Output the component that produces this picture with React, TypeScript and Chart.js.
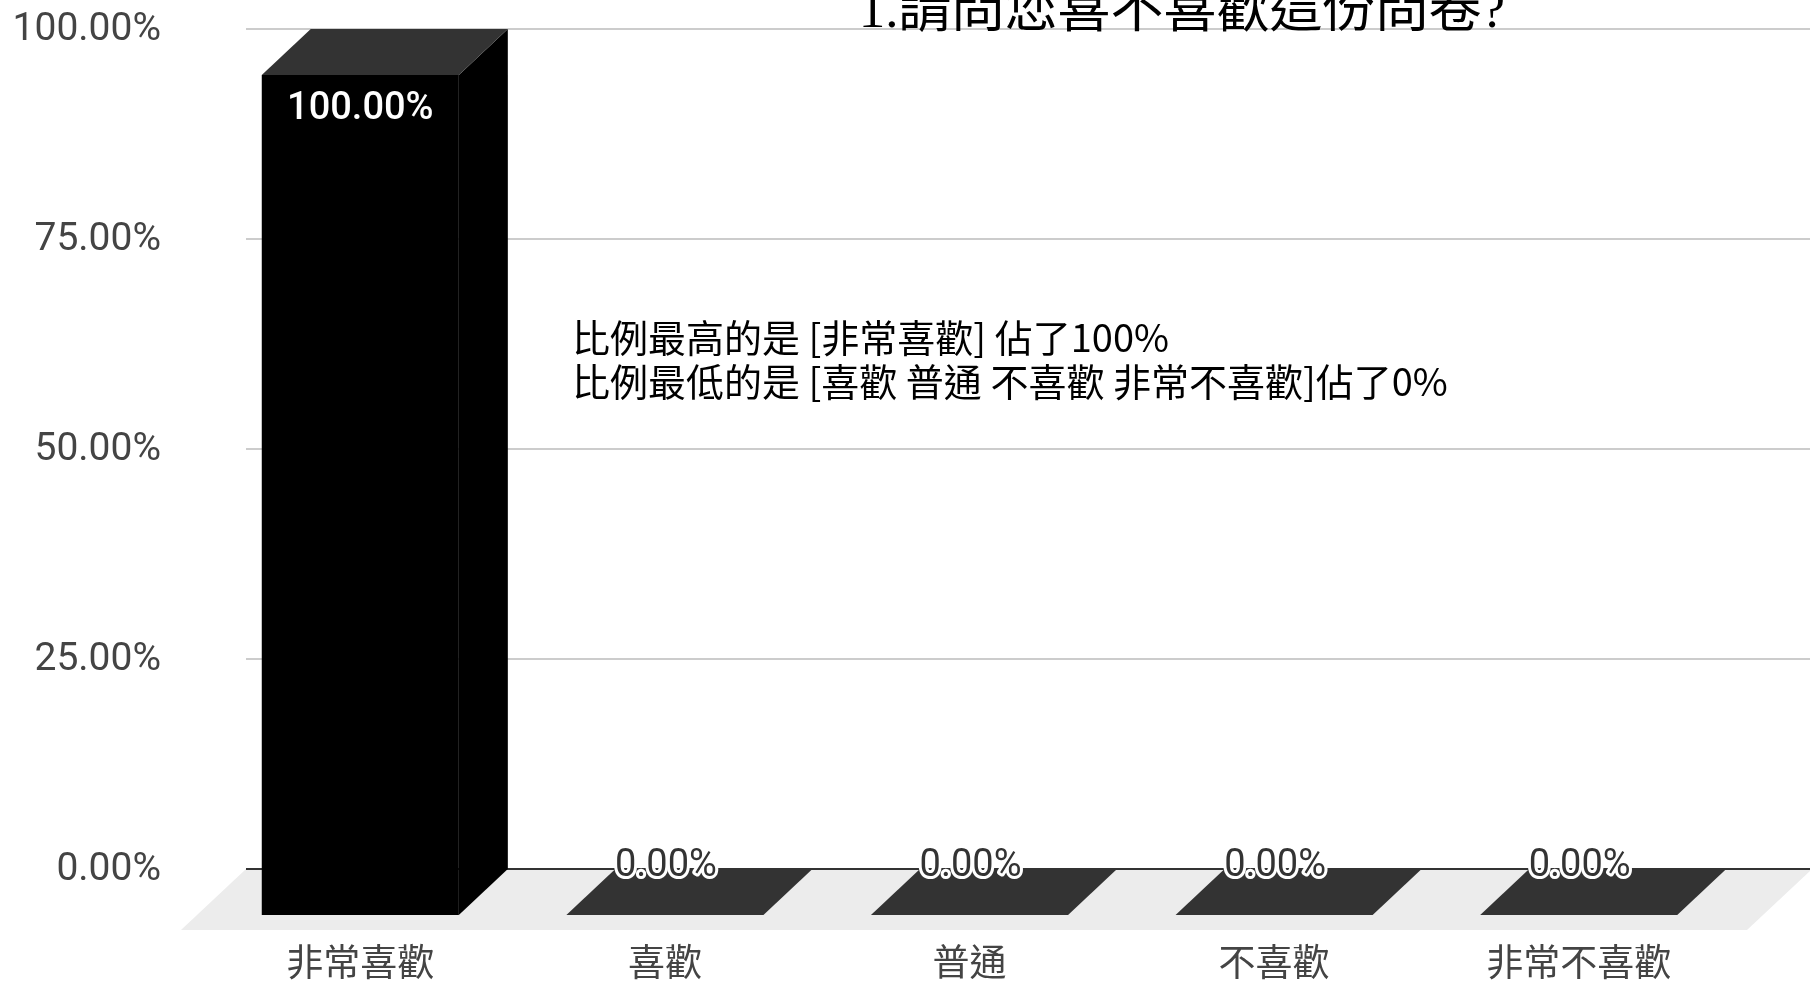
import React, { useEffect, useRef } from 'react';
import { Chart, registerables } from 'chart.js';

Chart.register(...registerables);

const TITLE = '1.請問您喜不喜歡這份問卷?';
const CATEGORIES = ['非常喜歡', '喜歡', '普通', '不喜歡', '非常不喜歡'];
const VALUES = [100, 0, 0, 0, 0];
const Y_TICKS = [0, 25, 50, 75, 100];
const NOTE_LINES = [
  '比例最高的是 [非常喜歡] 佔了100%',
  '比例最低的是 [喜歡 普通 不喜歡 非常不喜歡]佔了0%',
];

// 3D projection (style constants)
const DX = 49;
const DY = 46;
const FLOOR_DX = 65;
const FLOOR_DY = 61;

const fmt = (v: number) => v.toFixed(2) + '%';

const threeD = {
  id: 'threeD',
  beforeDatasetsDraw(chart: any) {
    const { ctx, chartArea, scales } = chart;
    const ys = scales.y;
    const xs = scales.x;
    const W = chart.width;
    const base = ys.getPixelForValue(0);
    const gridLeft = chartArea.left + 38;
    ctx.save();
    // floor
    ctx.fillStyle = '#ececec';
    ctx.beginPath();
    ctx.moveTo(gridLeft, base);
    ctx.lineTo(W + 2, base);
    ctx.lineTo(W + 2 - FLOOR_DX, base + FLOOR_DY);
    ctx.lineTo(gridLeft - FLOOR_DX, base + FLOOR_DY);
    ctx.closePath();
    ctx.fill();
    // gridlines
    Y_TICKS.forEach((t) => {
      const y = Math.round(ys.getPixelForValue(t));
      ctx.strokeStyle = t === 0 ? '#333333' : '#cccccc';
      ctx.lineWidth = 2;
      ctx.beginPath();
      ctx.moveTo(gridLeft, y);
      ctx.lineTo(W, y);
      ctx.stroke();
      // tick labels
      ctx.fillStyle = '#444444';
      ctx.font = '39px Roboto, "Noto Sans", sans-serif';
      ctx.textAlign = 'right';
      ctx.textBaseline = 'middle';
      ctx.fillText(fmt(t), 161, y + 1);
    });
    // category labels
    ctx.fillStyle = '#444444';
    ctx.font = '37px "Noto Sans CJK TC", sans-serif';
    ctx.textAlign = 'center';
    ctx.textBaseline = 'middle';
    CATEGORIES.forEach((c, i) => {
      ctx.fillText(c, xs.getPixelForValue(i), base + 93);
    });
    // title
    ctx.fillStyle = '#000000';
    ctx.font = '53px "Liberation Serif", "Noto Sans CJK TC", serif';
    ctx.textAlign = 'center';
    ctx.textBaseline = 'alphabetic';
    ctx.fillText(TITLE, 1182, 27);
    // notes
    ctx.font = '38px "Noto Sans CJK TC", sans-serif';
    ctx.textAlign = 'left';
    ctx.textBaseline = 'middle';
    NOTE_LINES.forEach((l, i) => {
      ctx.fillText(l, 572, 338 + i * 44);
    });
    ctx.restore();
  },
  afterDatasetsDraw(chart: any) {
    const { ctx } = chart;
    const meta = chart.getDatasetMeta(0);
    ctx.save();
    meta.data.forEach((el: any, i: number) => {
      const { x, y, base, width } = el.getProps(['x', 'y', 'base', 'width'], true);
      const L = x - width / 2;
      const R = x + width / 2;
      const top = y + DY;
      const bottom = base + DY;
      // side face
      if (bottom - top > 0.5) {
        ctx.fillStyle = '#000000';
        ctx.beginPath();
        ctx.moveTo(R, top);
        ctx.lineTo(R + DX, y);
        ctx.lineTo(R + DX, base);
        ctx.lineTo(R, bottom);
        ctx.closePath();
        ctx.fill();
      }
      // top face
      ctx.fillStyle = '#333333';
      ctx.beginPath();
      ctx.moveTo(L, top);
      ctx.lineTo(R, top);
      ctx.lineTo(R + DX, y);
      ctx.lineTo(L + DX, y);
      ctx.closePath();
      ctx.fill();
      // front face
      if (bottom - top > 0.5) {
        ctx.fillStyle = '#000000';
        ctx.fillRect(L, top, width, bottom - top);
      }
      // label
      const txt = fmt(VALUES[i]);
      ctx.textAlign = 'center';
      ctx.textBaseline = 'middle';
      if (bottom - top > 60) {
        ctx.font = '500 38px Roboto, sans-serif';
        ctx.fillStyle = '#ffffff';
        ctx.fillText(txt, x, top + 34);
      } else {
        ctx.font = '38px Roboto, sans-serif';
        ctx.lineJoin = 'round';
        ctx.lineWidth = 6;
        ctx.strokeStyle = '#ffffff';
        ctx.strokeText(txt, x + 1, y - 3);
        ctx.fillStyle = '#333333';
        ctx.fillText(txt, x + 1, y - 3);
      }
    });
    ctx.restore();
  },
};

export default function App() {
  const ref = useRef<HTMLCanvasElement | null>(null);
  useEffect(() => {
    document.body.style.margin = '0';
    const canvas = ref.current;
    if (!canvas) return;
    const chart = new Chart(canvas, {
      type: 'bar',
      data: {
        labels: CATEGORIES,
        datasets: [
          {
            data: VALUES,
            backgroundColor: 'rgba(0,0,0,0)',
            borderWidth: 0,
            barPercentage: 1,
            categoryPercentage: 0.647,
          },
        ],
      },
      options: {
        responsive: false,
        animation: false,
        devicePixelRatio: 1,
        layout: { padding: { left: 208, right: 79, top: 29, bottom: 112 } },
        scales: {
          x: { display: false },
          y: { display: false, min: 0, max: 100 },
        },
        plugins: {
          legend: { display: false },
          tooltip: { enabled: false },
          title: { display: false },
        },
      },
      plugins: [threeD],
    });
    return () => chart.destroy();
  }, []);
  return (
    <div style={{ width: 1810, height: 981, background: '#ffffff' }}>
      <canvas ref={ref} width={1810} height={981} style={{ display: 'block' }} />
    </div>
  );
}
